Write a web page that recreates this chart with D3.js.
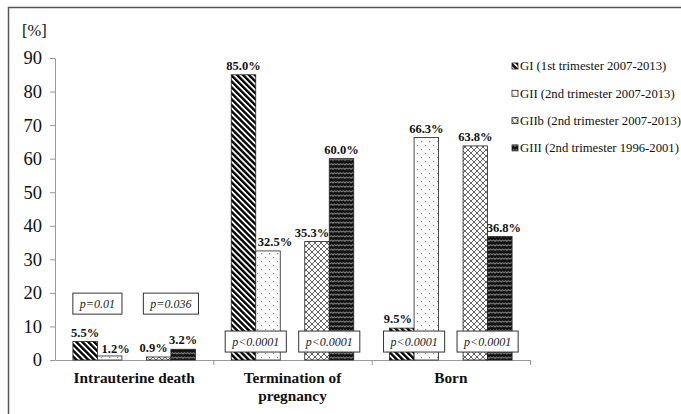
<!DOCTYPE html>
<html>
<head>
<meta charset="utf-8">
<script src="https://cdn.jsdelivr.net/npm/d3@7"></script>
<style>
body { margin: 0; background: #fff; }
svg { display: block; }
</style>
</head>
<body>
<svg></svg>
<script>
var categories = ["Intrauterine death", "Termination of pregnancy", "Born"];
var categoryLines = [["Intrauterine death"], ["Termination of", "pregnancy"], ["Born"]];
var seriesNames = ["GI (1st trimester 2007-2013)", "GII (2nd trimester 2007-2013)",
                   "GIIb (2nd trimester 2007-2013)", "GIII (2nd trimester 1996-2001)"];
var gI = [5.5, 85.0, 9.5];
var gII = [1.2, 32.5, 66.3];
var gIIb = [0.9, 35.3, 63.8];
var gIII = [3.2, 60.0, 36.8];
var pFirstPair = ["p=0.01", "p<0.0001", "p<0.0001"];
var pSecondPair = ["p=0.036", "p<0.0001", "p<0.0001"];
var yTicks = [0, 10, 20, 30, 40, 50, 60, 70, 80, 90];

var screen = {width: 681, height: 414};
var plot = {left: 55, right: 530, top: 58, bottom: 360};
var serif = "Liberation Serif";

var svg = d3.select("svg")
    .attr("width", screen.width)
    .attr("height", screen.height)
    .attr("font-family", serif);

// patterns
var defs = svg.append("defs");

var pStripe = defs.append("pattern").attr("id", "pat0")
    .attr("patternUnits", "userSpaceOnUse")
    .attr("width", 4.2).attr("height", 4.2)
    .attr("patternTransform", "rotate(-45)");
pStripe.append("rect").attr("width", 4.2).attr("height", 4.2).attr("fill", "#fff");
pStripe.append("rect").attr("width", 2.4).attr("height", 4.2).attr("fill", "#000");

var pDots = defs.append("pattern").attr("id", "pat1")
    .attr("patternUnits", "userSpaceOnUse")
    .attr("width", 8).attr("height", 8);
pDots.append("rect").attr("width", 8).attr("height", 8).attr("fill", "#fff");
pDots.append("rect").attr("x", 1).attr("y", 1).attr("width", 1.2).attr("height", 1.2).attr("fill", "#888");
pDots.append("rect").attr("x", 5).attr("y", 5).attr("width", 1.2).attr("height", 1.2).attr("fill", "#888");

var pLattice = defs.append("pattern").attr("id", "pat2")
    .attr("patternUnits", "userSpaceOnUse")
    .attr("width", 6).attr("height", 6);
pLattice.append("rect").attr("width", 6).attr("height", 6).attr("fill", "#fff");
pLattice.append("path").attr("d", "M0,0 L6,6 M6,0 L0,6 M-1,5 L1,7 M5,-1 L7,1 M-1,1 L1,-1 M5,7 L7,5")
    .attr("stroke", "#555").attr("stroke-width", 0.9).attr("fill", "none");

var pWave = defs.append("pattern").attr("id", "pat3")
    .attr("patternUnits", "userSpaceOnUse")
    .attr("width", 6).attr("height", 4.5);
pWave.append("rect").attr("width", 6).attr("height", 4.5).attr("fill", "#111");
pWave.append("path").attr("d", "M0,3 L1.5,1.5 L3,3 L4.5,1.5 L6,3")
    .attr("stroke", "#ddd").attr("stroke-width", 0.8).attr("fill", "none");

// frame
svg.append("rect")
    .attr("x", 8.5).attr("y", 7.5)
    .attr("width", 720).attr("height", 460)
    .attr("fill", "none").attr("stroke", "#555").attr("stroke-width", 1.5);

var xCat = d3.scaleBand().domain(categories).range([plot.left, plot.right]);
var xIdx = d3.scaleLinear().domain([0, 3]).range([plot.left, plot.right]);
var yScale = d3.scaleLinear().domain([0, 90]).range([plot.bottom, plot.top]);

var slotW = 24.5;
var slotOf = [0, 1, 3, 4];
var barX = function(cat, s) {
    return xCat(cat) + (xCat.bandwidth() - 5 * slotW) / 2 + slotOf[s] * slotW;
};

// axes
var yAxis = d3.axisLeft(yScale).tickValues(yTicks).tickSize(5).tickSizeOuter(0).tickPadding(8);
var gy = svg.append("g").attr("transform", "translate(" + plot.left + ",0)").call(yAxis)
    .attr("font-family", serif);
gy.select(".domain").attr("stroke", "#999");
gy.selectAll(".tick line").attr("stroke", "#999");
gy.selectAll(".tick text").attr("font-size", 18.5).attr("fill", "#111");

var xAxis = d3.axisBottom(xIdx).tickValues([1, 2, 3]).tickFormat("").tickSize(5).tickSizeOuter(0);
var gx = svg.append("g").attr("transform", "translate(0," + plot.bottom + ")").call(xAxis);
gx.select(".domain").attr("stroke", "#999");
gx.selectAll(".tick line").attr("stroke", "#999");

svg.append("text").attr("x", 22).attr("y", 36).attr("font-size", 16.5).attr("fill", "#111").text("[%]");

// bars
var series = [gI, gII, gIIb, gIII];
var bars = [];
series.forEach(function(vals, s) {
    vals.forEach(function(v, c) {
        bars.push({s: s, c: c, v: v});
    });
});

svg.append("g").selectAll("rect")
    .data(bars)
    .enter()
    .append("rect")
    .attr("x", function(d) { return barX(categories[d.c], d.s); })
    .attr("y", function(d) { return yScale(d.v); })
    .attr("width", slotW)
    .attr("height", function(d) { return yScale(0) - yScale(d.v); })
    .attr("fill", function(d) { return "url(#pat" + d.s + ")"; })
    .attr("stroke", "#222")
    .attr("stroke-width", 0.8);

// value labels (small nudges keep neighbours apart, as in the original), key = series-category
var nudge = {"1-0": [6, 2], "2-0": [-5, 0], "1-1": [7, 0], "2-1": [-5, 0], "0-2": [-4, 0], "3-2": [4, 0]};
svg.append("g").selectAll("text")
    .data(bars)
    .enter()
    .append("text")
    .attr("x", function(d) {
        var n = nudge[d.s + "-" + d.c] || [0, 0];
        return barX(categories[d.c], d.s) + slotW / 2 + n[0];
    })
    .attr("y", function(d) {
        var n = nudge[d.s + "-" + d.c] || [0, 0];
        return yScale(d.v) - 5 + n[1];
    })
    .attr("text-anchor", "middle")
    .attr("font-size", 12.5)
    .attr("font-weight", "bold")
    .attr("fill", "#111")
    .text(function(d) { return d.v.toFixed(1) + "%"; });

// p-value boxes
var boxLevel = [16.8, 5.5, 5.5];
var boxes = [];
categories.forEach(function(cat, c) {
    boxes.push({c: c, pair: 0, label: pFirstPair[c]});
    boxes.push({c: c, pair: 1, label: pSecondPair[c]});
});
var boxG = svg.append("g").selectAll("g")
    .data(boxes)
    .enter()
    .append("g")
    .attr("transform", function(d) {
        var cx = barX(categories[d.c], d.pair * 2) + slotW;
        return "translate(" + cx + "," + yScale(boxLevel[d.c]) + ")";
    });
boxG.append("rect").attr("fill", "#fff").attr("stroke", "#333").attr("stroke-width", 1);
boxG.append("text")
    .attr("text-anchor", "middle")
    .attr("dy", "0.35em")
    .attr("font-size", 12)
    .attr("font-style", "italic")
    .attr("fill", "#222")
    .text(function(d) { return d.label; });
boxG.each(function() {
    var g = d3.select(this);
    var w = g.select("text").node().getComputedTextLength() + 14;
    g.select("rect").attr("x", -w / 2).attr("y", -10.5).attr("width", w).attr("height", 21);
});

// category labels
svg.append("g").selectAll("text")
    .data(categoryLines)
    .enter()
    .append("text")
    .attr("x", function(d, i) { return xCat(categories[i]) + xCat.bandwidth() / 2; })
    .attr("y", 383)
    .attr("text-anchor", "middle")
    .attr("font-size", 15.3)
    .attr("font-weight", "bold")
    .attr("fill", "#111")
    .selectAll("tspan")
    .data(function(d) { return d; })
    .enter()
    .append("tspan")
    .attr("x", function() { return d3.select(this.parentNode).attr("x"); })
    .attr("dy", function(d, i) { return i === 0 ? 0 : 18; })
    .text(function(d) { return d; });

// legend
var legend = svg.append("g").selectAll("g")
    .data(seriesNames)
    .enter()
    .append("g")
    .attr("transform", function(d, i) { return "translate(512," + (66 + i * 27.3) + ")"; });
legend.append("rect")
    .attr("x", 0).attr("y", -3).attr("width", 6).attr("height", 6)
    .attr("fill", function(d, i) { return "url(#pat" + i + ")"; })
    .attr("stroke", "#222").attr("stroke-width", 0.8);
legend.append("text")
    .attr("x", 8).attr("dy", "0.35em")
    .attr("font-size", 12.7)
    .attr("fill", "#111")
    .text(function(d) { return d; });
</script>
</body>
</html>
